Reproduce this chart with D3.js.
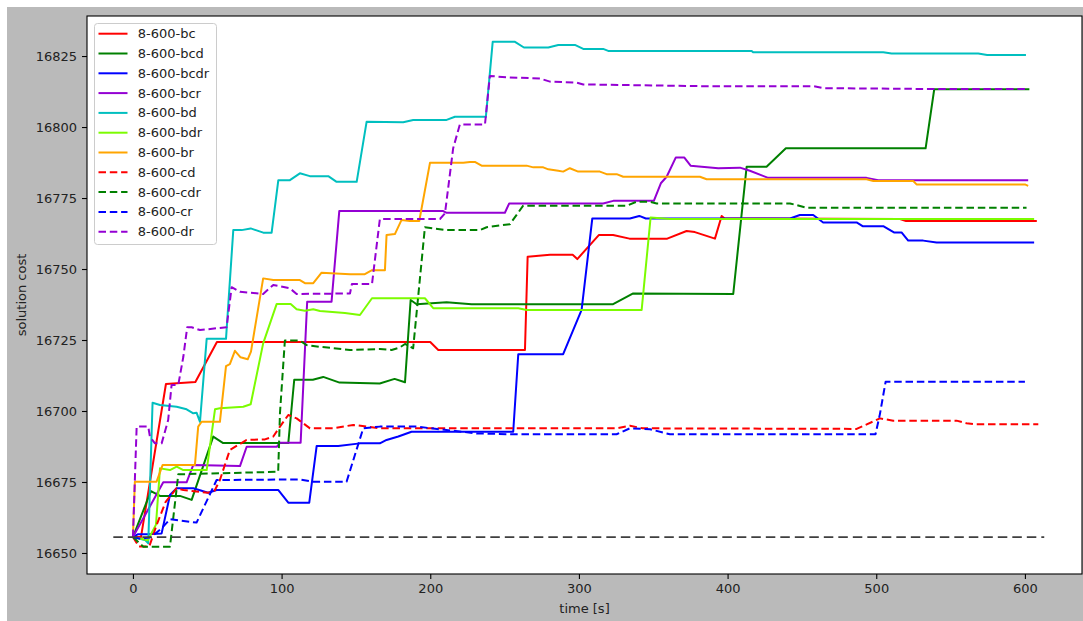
<!DOCTYPE html>
<html>
<head>
<meta charset="utf-8">
<script src="https://cdn.jsdelivr.net/npm/d3@7"></script>
<style>
  html, body { margin: 0; padding: 0; background: #ffffff; }
  svg { display: block; font-family: "DejaVu Sans", sans-serif; }
</style>
</head>
<body>
<svg id="chart" width="1083" height="621"></svg>
<script>
// Solution cost over time for each run configuration: [time s, cost]
const bc = [[0,16655.6],[5.4,16655.6],[22.2,16709.5],[42,16710.2],[56.5,16724.3],[200,16724.3],[205.4,16721.5],[263.7,16721.5],[265.5,16754.3],[280.5,16755],[295.8,16755],[298.9,16753.5],[313.5,16762],[323,16762],[334,16760.7],[359.4,16760.7],[372.4,16763.4],[378,16763],[391.5,16760.7],[396,16768.7],[398,16767.8],[516,16767.6],[520,16766.9],[608,16766.9]];
const bcd = [[0,16655.6],[12.1,16671.8],[18.2,16670.1],[31.6,16670.1],[39.5,16668.7],[54,16691],[60.7,16688.7],[104.5,16688.7],[108.5,16711],[121,16711],[128,16712],[139,16710],[166,16709.7],[176,16711.3],[183,16710.1],[186.8,16739.1],[190.8,16737.6],[211,16738.3],[227.8,16737.6],[323,16737.6],[336.5,16741.4],[403.8,16741.2],[412.8,16786],[426.2,16786],[439.2,16792.5],[533.2,16792.5],[539,16813.3],[603,16813.3]];
const bcdr = [[0,16655.6],[3.5,16656.6],[10.3,16656.6],[19.3,16656.9],[24.9,16670.4],[29.4,16672.8],[40.6,16672.8],[50.6,16671.2],[56.3,16672.2],[97.7,16672.2],[104.5,16667.7],[118.6,16667.7],[123.6,16687.7],[138.1,16687.7],[152.7,16688.6],[166.1,16688.6],[170.6,16689.8],[178.5,16691],[187.4,16692.7],[255.8,16692.7],[259.2,16720],[289.4,16720],[301.8,16735.6],[309,16767.8],[334.3,16767.8],[340.6,16768.7],[345,16767.8],[442,16767.8],[448.6,16769],[457.6,16769],[464.3,16766.4],[486.8,16766.4],[490.8,16765.1],[504.7,16765.1],[511.9,16762.9],[517,16762.9],[521.5,16760],[531.6,16760],[540.6,16759.3],[606.2,16759.3]];
const bcr = [[0,16655.6],[20.4,16674.9],[36.1,16674.9],[40.6,16681],[72,16680.6],[76.5,16687.4],[96.7,16687.4],[98.9,16688.8],[112.8,16688.8],[117.2,16738.5],[133.6,16738.5],[138.8,16770.4],[208.7,16770.4],[211,16769.8],[250.2,16769.8],[253.1,16773.1],[316.3,16773.1],[323.1,16774],[350.4,16774],[355.1,16780.2],[359,16782.5],[365.2,16789.3],[370.8,16789.3],[375.1,16786.4],[393.7,16785.5],[408.3,16785.7],[415,16784.6],[427.3,16782.1],[493.5,16782.1],[501.3,16781.3],[602.2,16781.3]];
const bd = [[0,16655.6],[8.1,16654.6],[10.3,16653.4],[13.2,16702.9],[18.2,16702.1],[29.4,16701.5],[36.1,16700.6],[40.6,16699.2],[42.8,16699.4],[45.1,16696.2],[49.6,16725.4],[62.6,16725.4],[67.5,16763.7],[73.1,16763.7],[79.2,16764.3],[87.7,16762.8],[93.3,16762.8],[97.8,16781.3],[105.6,16781.3],[112.3,16783.7],[119,16782.7],[131.4,16782.7],[137,16780.7],[150.5,16780.7],[157.2,16801.9],[181.8,16801.7],[188.5,16802.5],[211,16802.5],[216.6,16803.6],[237.4,16803.6],[242,16830],[257,16830],[263,16828],[279.4,16828],[286.1,16828.9],[297.3,16828.9],[302.9,16827.5],[316.3,16827.5],[319.7,16826.8],[416.2,16826.8],[417.2,16826.3],[504.7,16826.3],[510.3,16825.9],[568.6,16825.9],[574.6,16825.4],[600.7,16825.4]];
const bdr = [[0,16655.6],[10,16654.5],[15.5,16660],[18.2,16679.8],[24.9,16679.2],[29.4,16680.4],[33.9,16679.2],[49.6,16679.2],[55.2,16700.6],[58.5,16701],[74.2,16701.5],[79.2,16702.4],[87.6,16723.8],[96.7,16737.7],[106.1,16737.7],[110.1,16735.8],[115.7,16735.3],[121.3,16735.8],[125.8,16735.2],[142.6,16734.5],[152.7,16733.8],[160.8,16739.7],[196.4,16739.7],[202,16736.2],[259.2,16736.2],[264.8,16735.6],[342.2,16735.6],[348.2,16768.1],[361.2,16767.6],[606.2,16767.6]];
const br = [[0,16655.6],[1.3,16675.1],[15.9,16675.1],[20,16681],[41.7,16681],[43.9,16694.5],[46.2,16696.2],[58.5,16696.2],[62.6,16715.8],[65.2,16716.5],[68.6,16721.2],[72.4,16718.9],[77.2,16718.2],[79.4,16720.9],[87.6,16746.7],[94.4,16746.1],[112.3,16746.1],[115.7,16745],[121.3,16745],[126.9,16748.7],[146,16748.2],[156,16748.2],[160.8,16749.6],[169.5,16749.6],[170.6,16762],[176.2,16762.3],[180.7,16767.3],[186.3,16766.9],[192.6,16766.9],[199.8,16787.4],[222.2,16787.4],[226.7,16787.7],[230,16787.7],[234.5,16786.4],[264.8,16786.4],[269.3,16785.8],[276,16785.8],[279.4,16785.1],[286.1,16784.6],[289.4,16784.3],[293.9,16785.5],[299.5,16784.3],[314.1,16784.3],[318.6,16783.4],[325.4,16783.4],[329.8,16782.5],[381.4,16782.5],[385.9,16781.6],[493.5,16781.6],[498,16781],[524.9,16781],[527.1,16779.8],[600,16779.8],[602.2,16779.3]];
const cd = [[0,16655.6],[4,16652.3],[11,16652.3],[16,16660],[22,16668],[29.4,16672.8],[33.9,16672.2],[50.6,16671.2],[55,16672],[58.5,16675.7],[65.2,16686.3],[76.5,16689.8],[88.8,16690],[94.4,16691],[98.9,16694.5],[104.5,16698.6],[110.1,16697.4],[119.1,16693.9],[134.7,16693.9],[148.2,16695.1],[166.1,16693.9],[325.3,16693.9],[334.3,16694.8],[343,16693.9],[486.8,16693.7],[502.5,16697.4],[511.4,16696.6],[554,16696.6],[560.7,16695.7],[567.5,16695.3],[609,16695.3]];
const cdr = [[0,16655.6],[7,16652.2],[24.9,16652.2],[30.5,16677.7],[97.7,16678.6],[98.9,16699.2],[102.2,16724.8],[112.3,16724.8],[116.8,16723.2],[125.8,16722.6],[146,16721.5],[166.1,16721.8],[174,16721.5],[179.6,16722.4],[183,16723.6],[188.5,16722.1],[196.4,16764.7],[202,16764.3],[211,16763.7],[233.4,16763.7],[237.9,16764.7],[253.6,16765.8],[262.5,16772.3],[332.1,16772.3],[338.8,16773.7],[347.8,16773.7],[352.3,16773.1],[442,16773.1],[453.1,16771.6],[601.1,16771.6]];
const cr = [[0,16655.6],[5,16655],[12,16655.5],[19.3,16658.7],[24.9,16661.9],[42.8,16660.7],[56.3,16675.7],[112.3,16675.9],[121.3,16675.1],[143.7,16675.1],[154.9,16693.9],[166.1,16694.5],[190.8,16694.5],[231.2,16692.1],[255.8,16691.8],[325.3,16691.8],[334.3,16693.9],[347.8,16693.6],[361.2,16691.8],[499.5,16691.8],[502.5,16699],[506.3,16710.3],[600,16710.3]];
const dr = [[0,16655.6],[2.5,16694.5],[10.3,16694.5],[11.4,16691],[14.8,16688.6],[19.3,16688.6],[23.7,16696.8],[26,16709.2],[30.5,16709.2],[33.9,16719.1],[36.5,16729.5],[39.5,16729.5],[45.1,16728.5],[63,16729.5],[66.4,16743.6],[72,16742],[87.6,16741.2],[94.4,16744.4],[105.6,16743.2],[110.1,16741.2],[146,16741.4],[147.3,16744.7],[160.8,16744.7],[166.1,16767.6],[206.5,16767.6],[209.9,16769.6],[215.4,16792.5],[219.9,16800.9],[236.8,16800.9],[240.1,16818],[251.4,16817.5],[273.8,16817.1],[280.5,16816],[298.5,16815.6],[302.9,16815],[381.4,16814.4],[457.6,16814.4],[464.3,16813.7],[533.9,16813.4],[602.2,16813.4]];

// Reference cost level and the time span it covers
const refCost = 16655.6;
const refSpan = [-13.2, 613];

const seriesNames = ["8-600-bc","8-600-bcd","8-600-bcdr","8-600-bcr","8-600-bd","8-600-bdr","8-600-br","8-600-cd","8-600-cdr","8-600-cr","8-600-dr"];
const seriesValues = [bc, bcd, bcdr, bcr, bd, bdr, br, cd, cdr, cr, dr];
const seriesColors = ["#ff0000","#008000","#0000ff","#9400d3","#00bfbf","#7cfc00","#ffa500","#ff0000","#008000","#0000ff","#9400d3"];
const seriesDashed = [false,false,false,false,false,false,false,true,true,true,true];

const xTicks = [0,100,200,300,400,500,600];
const yTicks = [16650,16675,16700,16725,16750,16775,16800,16825];
const xDomain = [-30.9, 638.4];
const yDomain = [16642.6, 16839.1];

const svg = d3.select("#chart");
const W = 1083, H = 621;
const plot = { left: 87, top: 16, right: 1082, bottom: 574 };

// figure background
svg.append("rect").attr("x", 7).attr("y", 7).attr("width", W - 7).attr("height", H - 7).attr("fill", "#bababa");
svg.append("rect").attr("x", plot.left).attr("y", plot.top)
  .attr("width", plot.right - plot.left).attr("height", plot.bottom - plot.top).attr("fill", "#ffffff");

const x = d3.scaleLinear().domain(xDomain).range([plot.left, plot.right]);
const y = d3.scaleLinear().domain(yDomain).range([plot.bottom, plot.top]);

svg.append("clipPath").attr("id", "plotclip").append("rect")
  .attr("x", plot.left).attr("y", plot.top)
  .attr("width", plot.right - plot.left).attr("height", plot.bottom - plot.top);

const line = d3.line().x(d => x(d[0])).y(d => y(d[1]));
const g = svg.append("g").attr("clip-path", "url(#plotclip)");

seriesValues.forEach((vals, i) => {
  g.append("path").datum(vals)
    .attr("d", line)
    .attr("fill", "none")
    .attr("stroke", seriesColors[i])
    .attr("stroke-width", 2)
    .attr("stroke-linejoin", "round")
    .attr("stroke-dasharray", seriesDashed[i] ? "7.5,3.8" : null);
});

// reference level
g.append("path").datum(refSpan.map(t => [t, refCost]))
  .attr("d", line)
  .attr("fill", "none")
  .attr("stroke", "#3f3f3f")
  .attr("stroke-width", 1.7)
  .attr("stroke-dasharray", "9.5,5");

// axes
const xAxis = d3.axisBottom(x).tickValues(xTicks).tickSize(5).tickPadding(5);
const yAxis = d3.axisLeft(y).tickValues(yTicks).tickSize(5).tickPadding(5).tickFormat(d3.format("d"));

const gx = svg.append("g").attr("transform", `translate(0,${plot.bottom})`).call(xAxis);
const gy = svg.append("g").attr("transform", `translate(${plot.left},0)`).call(yAxis);
[gx, gy].forEach(a => {
  a.select(".domain").remove();
  a.selectAll("line").attr("stroke", "#000").attr("stroke-width", 1.1);
  a.selectAll("text").attr("fill", "#222").style("font-size", "13px").style("font-family", "DejaVu Sans");
});

// spines
svg.append("rect").attr("x", plot.left).attr("y", plot.top)
  .attr("width", plot.right - plot.left).attr("height", plot.bottom - plot.top)
  .attr("fill", "none").attr("stroke", "#000").attr("stroke-width", 1.1);

// axis titles
svg.append("text").attr("x", (plot.left + plot.right) / 2).attr("y", 613)
  .attr("text-anchor", "middle").attr("fill", "#222").style("font-size", "13px")
  .text("time [s]");
svg.append("text").attr("transform", `translate(26,${(plot.top + plot.bottom) / 2}) rotate(-90)`)
  .attr("text-anchor", "middle").attr("fill", "#222").style("font-size", "13px")
  .text("solution cost");

// legend
const lg = svg.append("g");
lg.append("rect").attr("x", 94.5).attr("y", 23.5).attr("width", 122).attr("height", 221)
  .attr("rx", 3).attr("fill", "#ffffff").attr("fill-opacity", 0.8)
  .attr("stroke", "#cccccc").attr("stroke-width", 1);
seriesNames.forEach((name, i) => {
  const yy = 33.7 + i * 19.8;
  lg.append("line").attr("x1", 98.5).attr("x2", 127.5).attr("y1", yy).attr("y2", yy)
    .attr("stroke", seriesColors[i]).attr("stroke-width", 2)
    .attr("stroke-dasharray", seriesDashed[i] ? "7.5,3.8" : null);
  lg.append("text").attr("x", 137.7).attr("y", yy).attr("dy", "0.35em")
    .attr("fill", "#222").style("font-size", "13px").text(name);
});
</script>
</body>
</html>
